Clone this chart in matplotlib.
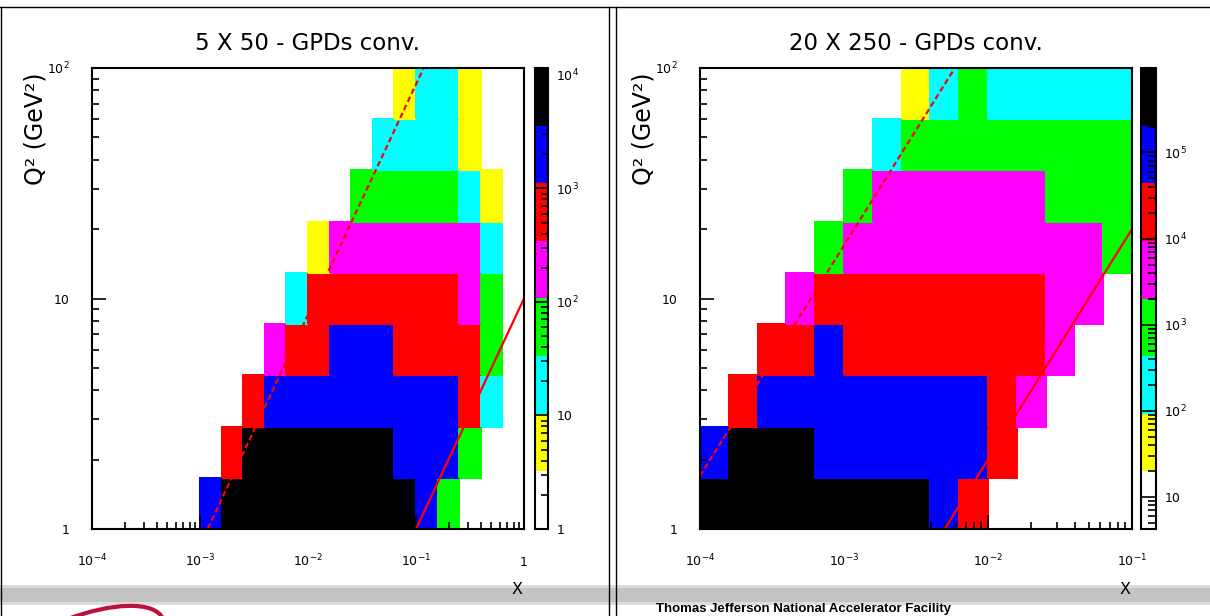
import numpy as np
import matplotlib
matplotlib.use('Agg')
import matplotlib.pyplot as plt
from matplotlib.colors import ListedColormap, LogNorm
from matplotlib.ticker import LogLocator, FuncFormatter, NullFormatter
from matplotlib.patches import PathPatch, Rectangle
from matplotlib.path import Path
from matplotlib.lines import Line2D

W, H = 1210, 616

# ---- data ----
titles = ['5 X 50 - GPDs conv.', '20 X 250 - GPDs conv.']
e_beam = [5, 20]          # electron energy (GeV)
p_beam = [50, 250]        # proton energy (GeV)
y_max = 0.85              # dashed kinematic limit
y_min = 0.01              # solid kinematic limit
x_decades = [(-4, 0), (-4, -1)]
q2_decades = (0, 2)
n_q2_bins = 9

# counts per bin, rows from Q2 = 1 upwards, columns from x = 1e-4 (0.2 decade bins)
counts_5x50 = [
    [0, 0, 0, 0, 0, 2100, 6200, 7400, 8100, 8600, 8800, 8300, 7600, 6500, 4200, 1900, 60, 0, 0, 0],
    [0, 0, 0, 0, 0, 0, 650, 4800, 7900, 9200, 9500, 9000, 7800, 4900, 2600, 2000, 1300, 75, 0, 0],
    [0, 0, 0, 0, 0, 0, 0, 520, 1500, 2700, 3100, 3300, 3200, 2900, 2400, 1800, 1200, 480, 20, 0],
    [0, 0, 0, 0, 0, 0, 0, 0, 180, 560, 900, 1300, 1500, 1200, 1000, 900, 700, 400, 60, 0],
    [0, 0, 0, 0, 0, 0, 0, 0, 0, 22, 420, 700, 850, 900, 850, 700, 450, 200, 45, 0],
    [0, 0, 0, 0, 0, 0, 0, 0, 0, 0, 7, 140, 230, 300, 320, 280, 200, 130, 20, 0],
    [0, 0, 0, 0, 0, 0, 0, 0, 0, 0, 0, 0, 40, 70, 95, 85, 50, 25, 6, 0],
    [0, 0, 0, 0, 0, 0, 0, 0, 0, 0, 0, 0, 0, 12, 22, 28, 20, 7, 0, 0],
    [0, 0, 0, 0, 0, 0, 0, 0, 0, 0, 0, 0, 0, 0, 5, 14, 16, 6, 0, 0],
]
counts_20x250 = [
    [380000, 520000, 600000, 640000, 620000, 560000, 460000, 300000, 110000, 28000, 0, 0, 0, 0, 0],
    [90000, 330000, 420000, 360000, 190000, 170000, 150000, 130000, 100000, 70000, 25000, 0, 0, 0, 0],
    [0, 30000, 120000, 160000, 170000, 160000, 140000, 120000, 90000, 60000, 22000, 5000, 0, 0, 0],
    [0, 0, 25000, 40000, 52000, 43000, 40000, 36000, 30000, 25000, 18000, 12000, 4000, 0, 0],
    [0, 0, 0, 6000, 20000, 26000, 28000, 26000, 22000, 18000, 14000, 10500, 7000, 3000, 0],
    [0, 0, 0, 0, 1500, 7500, 8500, 8000, 7200, 6400, 5500, 4500, 3500, 2600, 1200],
    [0, 0, 0, 0, 0, 1300, 3200, 3800, 3600, 3200, 2800, 2200, 1800, 1400, 1000],
    [0, 0, 0, 0, 0, 0, 300, 1000, 1200, 1100, 900, 800, 700, 600, 500],
    [0, 0, 0, 0, 0, 0, 0, 60, 250, 500, 400, 350, 300, 250, 200],
]
z_ranges = [(1.0, 10 ** 4.06), (10 ** 0.63, 10 ** 5.98)]
palette = ['white', 'yellow', 'cyan', '#00ff00', 'magenta', 'red', 'blue', 'black']


def box(x0, y0, w, h):
    return [x0 / W, 1 - (y0 + h) / H, w / W, h / H]


def root_log(v, pos):
    n = int(round(np.log10(v)))
    if n == 0:
        return '1'
    if n == 1:
        return '10'
    return r'$10^{%d}$' % n


fig = plt.figure(figsize=(W / 100, H / 100), dpi=100)

# slide decorations
fig.add_artist(Rectangle((0, 1 - 605 / H), 1, 20 / H, transform=fig.transFigure,
                         color='#dcdcdc', zorder=0, lw=0))
fig.add_artist(Rectangle((0, 1 - 602 / H), 1, 14 / H, transform=fig.transFigure,
                         color='#c3c3c3', zorder=0, lw=0))
for xp in [0.5, 609, 616]:
    fig.add_artist(Line2D([xp / W, xp / W], [0, 1 - 7 / H], transform=fig.transFigure,
                          color='black', lw=1))
fig.add_artist(Line2D([0, 1], [1 - 7 / H, 1 - 7 / H], transform=fig.transFigure,
                      color='black', lw=1))
swoosh = Path([(68 / W, 1 - 619 / H), (110 / W, 1 - 603 / H), (155 / W, 1 - 600 / H),
               (163 / W, 1 - 619 / H)],
              [Path.MOVETO, Path.CURVE4, Path.CURVE4, Path.CURVE4])
fig.add_artist(PathPatch(swoosh, transform=fig.transFigure, fill=False,
                         edgecolor='#b8133c', lw=3))
fig.text(656 / W, 1 - 612 / H, 'Thomas Jefferson National Accelerator Facility',
         ha='left', va='baseline', fontsize=9.5, fontweight='bold',
         family='Liberation Sans', color='black')

panels = [
    (92, 535, 13, counts_5x50),
    (700, 1141, 15, counts_20x250),
]

for i, (ax_x0, cb_x0, cb_w, counts) in enumerate(panels):
    ax = fig.add_axes(box(ax_x0, 68, 432, 461))
    ax.set_xscale('log')
    ax.set_yscale('log')
    c = np.array(counts, float)
    x_lo, x_hi = x_decades[i]
    xe = np.logspace(x_lo, x_hi, c.shape[1] + 1)
    ye = np.logspace(q2_decades[0], q2_decades[1], n_q2_bins + 1)
    z = np.ma.masked_less_equal(c, 0)
    mesh = ax.pcolormesh(xe, ye, z, cmap=ListedColormap(palette),
                         norm=LogNorm(*z_ranges[i]), shading='flat',
                         edgecolors='face', linewidth=0.3)

    s = 4 * e_beam[i] * p_beam[i]
    xs = np.logspace(x_lo, x_hi, 300)
    ax.plot(xs, y_max * s * xs, color='red', lw=1.6, ls=(0, (2.5, 1.5)))
    ax.plot(xs, y_min * s * xs, color='red', lw=1.6)

    ax.set_xlim(10.0 ** x_lo, 10.0 ** x_hi)
    ax.set_ylim(10.0 ** q2_decades[0], 10.0 ** q2_decades[1])
    ax.set_xticks(10.0 ** np.arange(x_lo, x_hi + 1))
    ax.set_yticks(10.0 ** np.arange(q2_decades[0], q2_decades[1] + 1))
    ax.xaxis.set_minor_locator(LogLocator(10, subs=np.arange(2, 10)))
    ax.yaxis.set_minor_locator(LogLocator(10, subs=np.arange(2, 10)))
    ax.xaxis.set_major_formatter(FuncFormatter(root_log))
    ax.yaxis.set_major_formatter(FuncFormatter(root_log))
    ax.xaxis.set_minor_formatter(NullFormatter())
    ax.yaxis.set_minor_formatter(NullFormatter())
    ax.tick_params(which='both', direction='in', top=False, right=False,
                   width=1.2, labelsize=9)
    ax.tick_params(which='major', length=10)
    ax.tick_params(which='minor', length=5)
    ax.tick_params(axis='x', pad=27)
    ax.tick_params(axis='y', pad=16)
    for lbl in ax.get_xticklabels():
        lbl.set_verticalalignment('baseline')
    for sp in ax.spines.values():
        sp.set_linewidth(1.5)

    cax = fig.add_axes(box(cb_x0, 68, cb_w, 461))
    cb = fig.colorbar(mesh, cax=cax)
    cb.outline.set_linewidth(1.5)
    cax.yaxis.set_major_locator(LogLocator(10))
    cax.yaxis.set_minor_locator(LogLocator(10, subs=np.arange(2, 10)))
    cax.yaxis.set_major_formatter(FuncFormatter(root_log))
    cax.yaxis.set_minor_formatter(NullFormatter())
    cax.tick_params(which='both', direction='in', right=True, left=False,
                    width=1.2, labelsize=9, pad=6)
    cax.tick_params(which='major', length=cb_w / 1.389)
    cax.tick_params(which='minor', length=cb_w / 2.6)

    fig.text((ax_x0 + 216) / W, 1 - 43 / H, titles[i], ha='center', va='center',
             fontsize=16.5)
    fig.text((ax_x0 - 57) / W, 1 - 129 / H, 'Q² (GeV²)', rotation=90,
             ha='center', va='center', fontsize=17)
    fig.text((ax_x0 + 425) / W, 1 - 589 / H, 'X', ha='center', va='center',
             fontsize=11.5, zorder=5)

fig.savefig('out.png', dpi=100)
